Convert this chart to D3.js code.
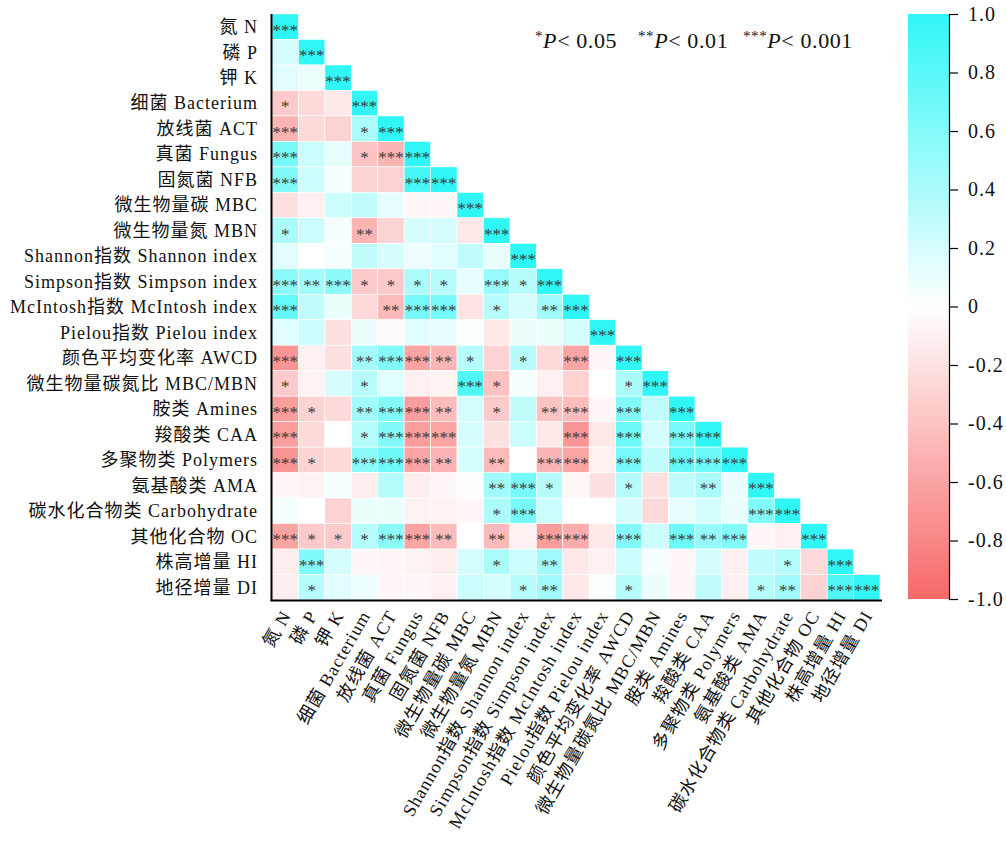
<!DOCTYPE html>
<html><head><meta charset="utf-8">
<script src="https://cdn.jsdelivr.net/npm/d3@7/dist/d3.min.js"></script>
<style>
body{margin:0;background:#fff;}
text{font-family:"Liberation Serif","Noto Sans CJK SC",serif;}
</style></head>
<body><svg id="chart" width="1006" height="841"></svg>
<script>
const variables = ["氮 N","磷 P","钾 K","细菌 Bacterium","放线菌 ACT","真菌 Fungus","固氮菌 NFB","微生物量碳 MBC","微生物量氮 MBN","Shannon指数 Shannon index","Simpson指数 Simpson index","McIntosh指数 McIntosh index","Pielou指数 Pielou index","颜色平均变化率  AWCD","微生物量碳氮比 MBC/MBN","胺类 Amines","羧酸类 CAA","多聚物类 Polymers","氨基酸类 AMA","碳水化合物类 Carbohydrate","其他化合物 OC","株高增量 HI","地径增量 DI"];

const corrValues = [
 [1],
 [0.2,1],
 [0.15,0.08,1],
 [-0.35,-0.25,-0.15,1],
 [-0.5,-0.25,-0.3,0.4,1],
 [0.65,0.25,0.12,-0.4,-0.5,1],
 [0.6,0.25,0.05,-0.3,-0.3,0.9,1],
 [-0.2,-0.1,0.25,0.3,0.12,-0.05,-0.05,1],
 [0.4,0.25,0.05,-0.5,-0.3,0.2,0.2,-0.15,1],
 [0.15,0.0,0.05,0.3,0.2,0.08,0.15,0.3,0.1,1],
 [0.55,0.45,0.55,-0.35,-0.35,0.4,0.35,0.12,0.5,0.35,1],
 [0.75,0.3,0.1,-0.25,-0.45,0.65,0.65,-0.18,0.35,0.2,0.45,1],
 [0.15,0.25,-0.2,0.1,-0.03,0.15,0.12,0.02,-0.15,0.1,0.1,0.2,1],
 [-0.7,-0.1,-0.2,0.45,0.6,-0.6,-0.5,0.35,-0.3,0.35,-0.25,-0.6,-0.05,1],
 [-0.35,-0.08,0.2,0.35,0.15,-0.1,-0.08,0.85,-0.4,0.05,-0.1,-0.3,0.0,0.4,1],
 [-0.65,-0.3,-0.25,0.45,0.6,-0.65,-0.45,0.2,-0.35,0.3,-0.4,-0.45,-0.05,0.6,0.3,1],
 [-0.65,-0.25,0.0,0.35,0.6,-0.65,-0.6,0.2,-0.2,0.25,-0.15,-0.7,-0.15,0.7,0.2,0.65,1],
 [-0.7,-0.3,-0.25,0.55,0.7,-0.6,-0.5,0.2,-0.45,0.0,-0.5,-0.6,-0.1,0.65,0.3,0.75,0.7,1],
 [-0.05,-0.08,0.05,-0.12,0.35,-0.12,-0.05,-0.02,0.45,0.65,0.35,-0.05,-0.2,0.35,-0.2,0.3,0.4,0.1,1],
 [0.05,0.0,-0.3,0.1,0.1,-0.08,-0.08,-0.05,0.4,0.65,0.25,0.0,0.0,0.2,-0.25,0.12,0.2,0.1,0.6,1],
 [-0.6,-0.35,-0.35,0.35,0.55,-0.6,-0.45,0.0,-0.45,-0.1,-0.65,-0.55,-0.15,0.6,0.25,0.7,0.5,0.6,-0.05,-0.1,1],
 [-0.12,0.6,0.2,-0.05,-0.05,-0.08,-0.12,0.2,0.4,0.25,0.45,-0.15,-0.1,0.25,0.05,-0.05,0.2,-0.1,0.3,0.35,-0.25,1],
 [-0.12,0.35,0.15,0.08,-0.05,-0.05,-0.1,0.25,0.2,0.35,0.45,-0.15,0.02,0.35,0.1,-0.05,0.3,-0.1,0.35,0.45,-0.3,0.85,1]
];

const sigStars = [
 ["***"],
 ["","***"],
 ["","","***"],
 ["*","","","***"],
 ["***","","","*","***"],
 ["***","","","*","***","***"],
 ["***","","","","","***","***"],
 ["","","","","","","","***"],
 ["*","","","**","","","","","***"],
 ["","","","","","","","","","***"],
 ["***","**","***","*","*","*","*","","***","*","***"],
 ["***","","","","**","***","***","","*","","**","***"],
 ["","","","","","","","","","","","","***"],
 ["***","","","**","***","***","**","*","","*","","***","","***"],
 ["*","","","*","","","","***","*","","","","","*","***"],
 ["***","*","","**","***","***","**","","*","","**","***","","***","","***"],
 ["***","","","*","***","***","***","","","","","***","","***","","***","***"],
 ["***","*","","***","***","***","**","","**","","***","***","","***","","***","***","***"],
 ["","","","","","","","","**","***","*","","","*","","","**","","***"],
 ["","","","","","","","","*","***","","","","","","","","","***","***"],
 ["***","*","*","*","***","***","**","","**","","***","***","","***","","***","**","***","","","***"],
 ["","***","","","","","","","*","","**","","","","","","","","","*","","***"],
 ["","*","","","","","","","","*","**","","","*","","","","","*","**","","***","***"]
];

const colorbarTicks = [1.0,0.8,0.6,0.4,0.2,0,-0.2,-0.4,-0.6,-0.8,-1.0];
const legendItems = [{stars:"*",p:"0.05"},{stars:"**",p:"0.01"},{stars:"***",p:"0.001"}];

const svg = d3.select("#chart");
const gLeft = 272, gRight = 880, gTop = 14, gBottom = 600;
const idx = d3.range(variables.length);
const x = d3.scaleBand().domain(idx).range([gLeft, gRight]);
const y = d3.scaleBand().domain(idx).range([gTop, gBottom]);
const color = d3.scaleLinear().domain([-1,0,1]).range(["#f76868","#ffffff","#30f6f6"]);

const cells = [];
corrValues.forEach((row,i)=>row.forEach((v,j)=>cells.push({i,j,v,s:sigStars[i][j]})));

svg.append("g").selectAll("rect").data(cells).join("rect")
  .attr("x",d=>x(d.j)).attr("y",d=>y(d.i))
  .attr("width",x.bandwidth()).attr("height",y.bandwidth())
  .attr("fill",d=>color(d.v)).attr("stroke","#ffffff").attr("stroke-width",0.6);

svg.append("g").selectAll("text").data(cells.filter(d=>d.s)).join("text")
  .attr("x",d=>x(d.j)+x.bandwidth()/2).attr("y",d=>y(d.i)+y.bandwidth()/2+9)
  .attr("text-anchor","middle").attr("font-size",17).attr("fill","#3a3a3a")
  .text(d=>d.s);

// axes lines
svg.append("line").attr("x1",gLeft-0.5).attr("x2",gLeft-0.5).attr("y1",gTop).attr("y2",gBottom+1)
  .attr("stroke","#000").attr("stroke-width",2);
svg.append("line").attr("x1",gLeft-1.5).attr("x2",gRight+2).attr("y1",gBottom+0.5).attr("y2",gBottom+0.5)
  .attr("stroke","#000").attr("stroke-width",2);

// y labels
svg.append("g").selectAll("text").data(idx).join("text")
  .attr("x",258).attr("y",d=>y(d)+y.bandwidth()/2).attr("dy","0.35em")
  .attr("text-anchor","end").attr("font-size",18).attr("letter-spacing","1px").attr("fill","#111")
  .text(d=>variables[d]);

// x labels
svg.append("g").selectAll("text").data(idx).join("text")
  .attr("transform",d=>`translate(${x(d)+x.bandwidth()/2+1},${gBottom+12}) rotate(-60)`)
  .attr("dy","0.35em")
  .attr("text-anchor","end").attr("font-size",18).attr("letter-spacing","1px").attr("fill","#111")
  .text(d=>variables[d]);

// legend
const lg = svg.append("g");
const lx = [535,638,743];
legendItems.forEach((it,k)=>{
  const t = lg.append("text").attr("x",lx[k]).attr("y",48).attr("font-size",22).attr("letter-spacing","0.6px").attr("fill","#111");
  t.append("tspan").attr("font-size",15).attr("dy",-7).text(it.stars);
  t.append("tspan").attr("font-style","italic").attr("dy",7).text("P");
  t.append("tspan").text("< "+it.p);
});

// colorbar
const cb = {x:908, w:41, y0:14, y1:599};
const defs = svg.append("defs");
const grad = defs.append("linearGradient").attr("id","cbgrad").attr("x1",0).attr("x2",0).attr("y1",1).attr("y2",0);
d3.range(-1,1.001,0.1).forEach(v=>grad.append("stop").attr("offset",(v+1)/2).attr("stop-color",color(v)));
svg.append("rect").attr("x",cb.x).attr("y",cb.y0).attr("width",cb.w).attr("height",cb.y1-cb.y0).attr("fill","url(#cbgrad)");
const cy = d3.scaleLinear().domain([-1,1]).range([cb.y1,cb.y0]);
const cAxis = svg.append("g").attr("transform",`translate(${cb.x+cb.w},0)`)
  .call(d3.axisRight(cy).tickValues(colorbarTicks).tickSize(9).tickPadding(10)
    .tickFormat(d=>d===0?"0":d.toFixed(1)));
cAxis.selectAll("text").attr("font-size",20).attr("letter-spacing","1px").attr("fill","#111")
  .style("font-family","'Liberation Serif',serif");
cAxis.selectAll("line,path").attr("stroke","#000").attr("stroke-width",1.2);
</script></body></html>
